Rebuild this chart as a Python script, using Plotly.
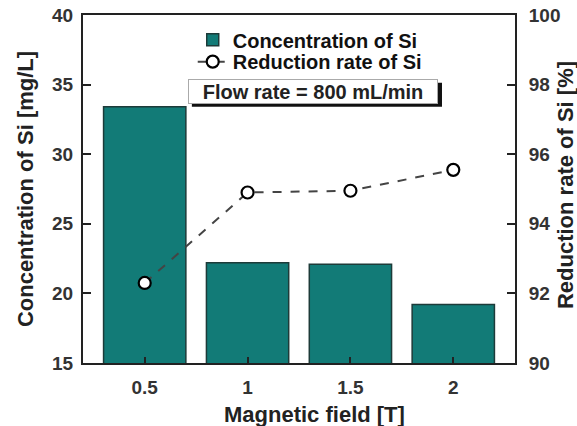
import plotly.graph_objects as go

fields = ["0.5", "1", "1.5", "2"]
concentration = [33.4, 22.2, 22.1, 19.2]
reduction = [92.3, 94.9, 94.95, 95.55]

FONT = "Liberation Sans, Arial, sans-serif"
TICKFONT = dict(size=19, family=FONT, color="#333333", weight="bold")
TITLEFONT = dict(size=22, family=FONT, color="#222222", weight="bold")
LEGFONT = dict(size=20, family=FONT, color="#111111", weight="bold")

fig = go.Figure()
fig.add_trace(go.Bar(
    x=fields, y=concentration, name="Concentration of Si",
    marker=dict(color="#127b77", line=dict(color="#1d3b39", width=1.5)),
    width=0.8, base=0, legend="legend",
))
fig.add_trace(go.Scatter(
    x=fields, y=reduction, name="Reduction rate of Si", yaxis="y2",
    mode="lines+markers", legend="legend2",
    line=dict(color="#444444", width=2, dash="dash"),
    marker=dict(symbol="circle", size=12, color="white", line=dict(color="black", width=2.2)),
))

axis_common = dict(showline=True, linecolor="#222", linewidth=2, tickcolor="#222",
                   tickwidth=2, ticks="inside", tickfont=TICKFONT, showgrid=False,
                   automargin=False)

fig.update_layout(
    width=577, height=426,
    margin=dict(l=83, r=62, t=15, b=63),
    plot_bgcolor="white", paper_bgcolor="white",
    font=dict(family=FONT, size=14, color="#222222"),
    showlegend=True,
    legend=dict(x=0.254, y=0.985, xanchor="left", yanchor="top",
                bgcolor="rgba(0,0,0,0)", font=LEGFONT, itemwidth=30),
    legend2=dict(x=0.254, y=0.922, xanchor="left", yanchor="top",
                 bgcolor="rgba(0,0,0,0)", font=LEGFONT, itemwidth=30),
    xaxis=dict(type="category", range=[-0.6, 3.6], mirror=True, ticklen=6,
               ticklabelstandoff=6, **axis_common),
    yaxis=dict(range=[15, 40], dtick=5, ticklen=8, ticklabelstandoff=4,
               zeroline=False, **axis_common),
    yaxis2=dict(range=[90, 100], dtick=2, overlaying="y", side="right", ticklen=8,
                ticklabelstandoff=8, zeroline=False, **axis_common),
    shapes=[
        dict(type="rect", xref="paper", yref="paper", x0=0.252, x1=0.831, y0=0.736, y1=0.805,
             fillcolor="#111111", line=dict(width=0), layer="above"),
    ],
    annotations=[
        dict(text="Flow rate = 800 mL/min", xref="paper", yref="paper",
             x=0.532, y=0.780, xanchor="center", yanchor="middle",
             width=246, height=21, bgcolor="white",
             bordercolor="#aaaaaa", borderwidth=1, borderpad=1, showarrow=False,
             font=dict(size=20, family=FONT, color="#222222", weight="bold")),
        dict(text="Magnetic field [T]", xref="paper", yref="paper",
             x=0.537, y=-0.148, xanchor="center", yanchor="middle", showarrow=False,
             font=TITLEFONT),
        dict(text="Concentration of Si [mg/L]", xref="paper", yref="paper",
             x=-0.134, y=0.5, xanchor="center", yanchor="middle", textangle=-90,
             showarrow=False, font=TITLEFONT),
        dict(text="Reduction rate of Si [%]", xref="paper", yref="paper",
             x=1.117, y=0.51, xanchor="center", yanchor="middle", textangle=-90,
             showarrow=False, font=TITLEFONT),
    ],
)

fig.write_html("out.html", config={"displayModeBar": False},
               post_script="document.body.style.margin='0px';document.body.style.overflow='hidden';")
